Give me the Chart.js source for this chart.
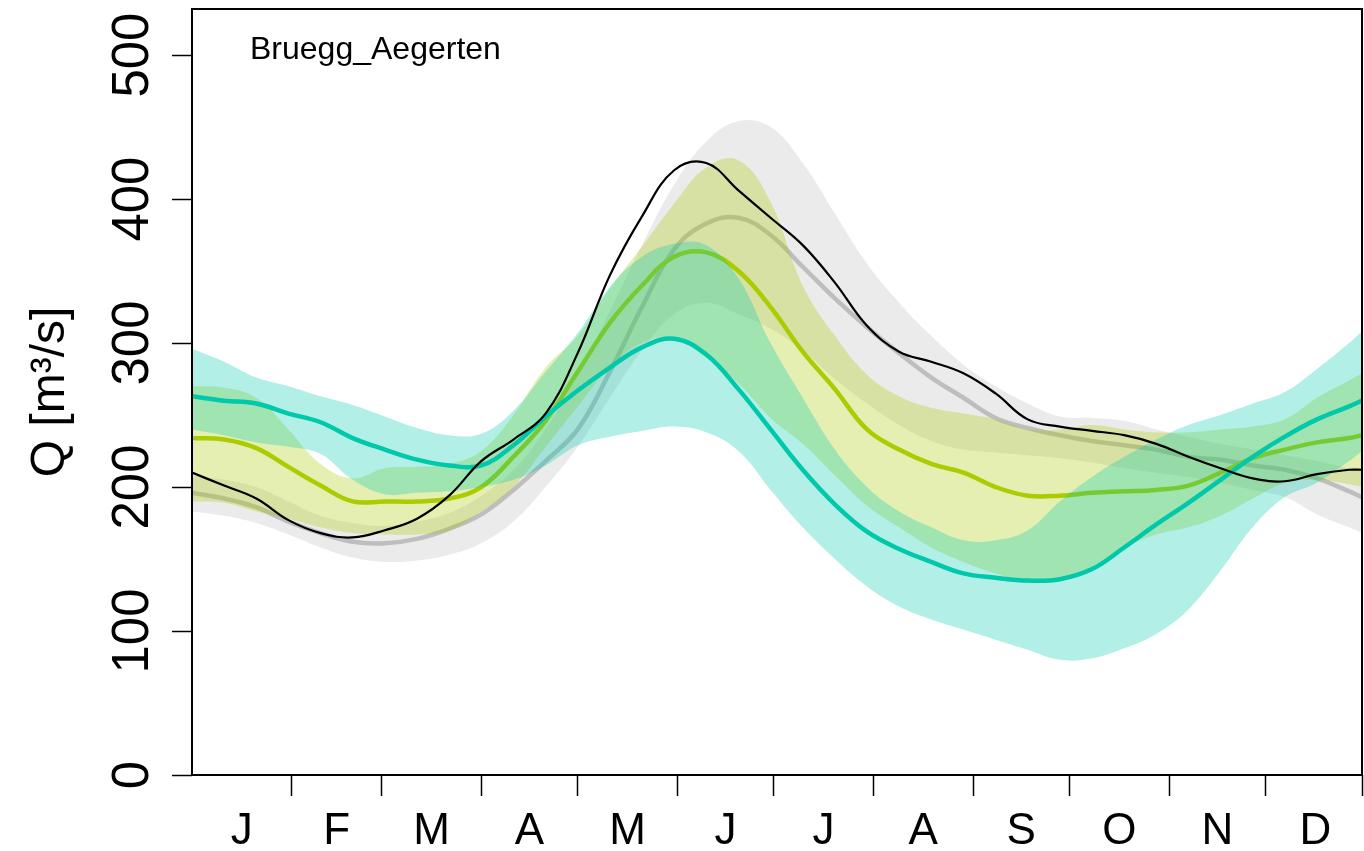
<!DOCTYPE html>
<html>
<head>
<meta charset="utf-8">
<script src="https://cdn.jsdelivr.net/npm/chart.js@4/dist/chart.umd.min.js"></script>
<style>
  html, body { margin: 0; padding: 0; background: #fff; }
  #wrap { width: 1364px; height: 851px; }
</style>
</head>
<body>
<div id="wrap"><canvas id="flowChart" width="1364" height="851"></canvas></div>
<script>
// day of year for every sample
const days = [1, 11, 21, 31, 41, 51, 61, 71, 81, 91, 101, 111, 121, 131, 141, 151, 161, 171, 181,
  191, 201, 211, 221, 231, 241, 251, 261, 271, 281, 291, 301, 311, 321, 331, 341, 351, 361, 365];

// observed discharge
const obsQ = [210, 201, 192, 177, 168, 165, 170, 178, 194, 218, 233, 251, 293, 347, 388, 420, 425, 406, 387,
  368, 342, 312, 294, 287, 279, 265, 247, 242, 239, 236, 230, 221, 213, 206, 204, 209, 212, 212];

// reference period: mean and range
const refMean = [196, 192, 186, 176, 168, 162, 161, 164, 171, 181, 198, 218, 240, 280, 325, 365, 383, 387, 375,
  353, 331, 311, 293, 276, 262, 248, 241, 236, 232, 229, 226, 221, 219, 215, 212, 206, 197, 193];
const refHigh = [208, 205, 200, 190, 180, 175, 173, 176, 182, 194, 212, 240, 278, 322, 368, 410, 440, 454, 450,
  425, 390, 355, 328, 305, 285, 270, 258, 249, 248, 246, 240, 235, 230, 226, 222, 218, 213, 211];
const refLow = [183, 180, 175, 167, 158, 151, 148, 149, 153, 161, 176, 200, 228, 262, 295, 320, 328, 320, 310,
  295, 275, 258, 243, 232, 226, 224, 222, 220, 217, 213, 210, 207, 203, 198, 193, 181, 172, 168];

// scenario A (yellow-green)
const scenAMean = [234, 233, 227, 214, 201, 190, 190, 190, 192, 200, 221, 246, 280, 314, 340, 360, 363, 350, 325,
  294, 268, 240, 226, 216, 210, 200, 194, 194, 196, 197, 198, 201, 210, 220, 226, 231, 234, 236];
const scenAHigh = [270, 269, 262, 240, 216, 206, 213, 214, 216, 225, 250, 283, 305, 338, 367, 397, 422, 427, 398,
  340, 305, 278, 263, 255, 251, 247, 240, 240, 243, 240, 238, 238, 240, 242, 247, 262, 274, 279];
const scenALow = [190, 189, 183, 178, 172, 168, 167, 167, 170, 183, 200, 228, 256, 283, 300, 303, 290, 272, 248,
  230, 208, 187, 172, 158, 148, 140, 134, 136, 145, 158, 167, 172, 180, 192, 203, 205, 202, 200];

// scenario B (turquoise)
const scenBMean = [263, 260, 258, 251, 245, 234, 226, 219, 215, 215, 229, 249, 267, 283, 297, 303, 292, 268, 240,
  212, 188, 169, 157, 148, 140, 137, 135, 136, 143, 158, 174, 189, 205, 221, 235, 247, 256, 260];
const scenBHigh = [296, 287, 276, 270, 263, 257, 249, 241, 236, 237, 253, 280, 307, 339, 360, 369, 368, 345, 300,
  262, 226, 200, 183, 172, 163, 163, 170, 190, 207, 221, 233, 243, 250, 258, 266, 282, 300, 308];
const scenBLow = [240, 236, 231, 228, 223, 205, 195, 196, 197, 200, 205, 215, 229, 235, 239, 242, 238, 225, 198,
  172, 150, 131, 117, 108, 101, 94, 87, 80, 81, 88, 98, 115, 142, 172, 193, 203, 218, 225];

const monthLabels = ['J', 'F', 'M', 'A', 'M', 'J', 'J', 'A', 'S', 'O', 'N', 'D'];
const monthStarts = [1, 32, 60, 91, 121, 152, 182, 213, 244, 274, 305, 335, 366];
const yTicks = [0, 100, 200, 300, 400, 500];
const stationName = 'Bruegg_Aegerten';

const FONT = "'Liberation Sans', Arial, sans-serif";
Chart.defaults.font.family = FONT;
Chart.defaults.color = '#000';

const toXY = arr => arr.map((v, i) => ({ x: days[i], y: v }));
const boundaryTicks = monthStarts.slice(1).map(d => Math.min(d, 365));
const midTicks = monthStarts.slice(0, -1).map((d, i) => (d + monthStarts[i + 1]) / 2);

function line(data, color, width, order) {
  return { data: toXY(data), borderColor: color, borderWidth: width, fill: false,
    pointRadius: 0, tension: 0.4, order: order };
}
function band(high, low, color, order) {
  return [
    { data: toXY(high), borderWidth: 0, borderColor: 'transparent', backgroundColor: color,
      fill: '+1', pointRadius: 0, tension: 0.4, order: order },
    { data: toXY(low), borderWidth: 0, borderColor: 'transparent', fill: false,
      pointRadius: 0, tension: 0.4, order: order }
  ];
}

// box around the plot and the station name
const framePlugin = {
  id: 'frame',
  afterDraw(chart) {
    const { ctx, chartArea: a } = chart;
    ctx.save();
    ctx.strokeStyle = '#000';
    ctx.lineWidth = 2;
    ctx.strokeRect(a.left, a.top, a.right - a.left, a.bottom - a.top);
    ctx.font = '32px ' + FONT;
    ctx.fillStyle = '#000';
    ctx.textBaseline = 'alphabetic';
    ctx.fillText(stationName, a.left + 58, a.top + 50);
    ctx.restore();
  }
};

new Chart(document.getElementById('flowChart'), {
  type: 'line',
  data: {
    datasets: [
      line(obsQ, '#000000', 2.2, 0),
      line(scenBMean, 'rgb(0,200,170)', 4.5, 1),
      ...band(scenBHigh, scenBLow, 'rgba(0,201,172,0.3)', 2),
      line(scenAMean, 'rgb(170,204,0)', 4.5, 3),
      ...band(scenAHigh, scenALow, 'rgba(168,202,0,0.3)', 4),
      line(refMean, 'rgb(190,190,190)', 4.5, 5),
      ...band(refHigh, refLow, 'rgba(190,190,190,0.3)', 6)
    ]
  },
  options: {
    responsive: false,
    animation: false,
    events: [],
    layout: { padding: { left: 0, top: 9, right: 2, bottom: 0 } },
    plugins: { legend: { display: false }, tooltip: { enabled: false } },
    scales: {
      x: {
        type: 'linear',
        min: 1,
        max: 365,
        afterBuildTicks: s => {
          s.ticks = boundaryTicks.concat(midTicks).sort((a, b) => a - b).map(v => ({ value: v }));
        },
        afterFit: s => { s.height = 76; s.paddingLeft = 0; s.paddingRight = 0; },
        border: { display: false },
        grid: {
          drawOnChartArea: false,
          tickLength: 21,
          tickWidth: 1.5,
          tickColor: c => (c.tick && boundaryTicks.includes(c.tick.value)) ? '#000' : 'rgba(0,0,0,0)'
        },
        ticks: {
          autoSkip: false,
          maxRotation: 0,
          padding: 9,
          font: { size: 44 },
          callback: v => {
            const i = midTicks.indexOf(v);
            return i >= 0 ? monthLabels[i] : '';
          }
        }
      },
      y: {
        min: 0,
        max: 532,
        afterBuildTicks: s => { s.ticks = yTicks.map(v => ({ value: v })); },
        afterFit: s => { s.width = 192; s.paddingTop = 0; s.paddingBottom = 0; },
        border: { display: false },
        grid: { drawOnChartArea: false, tickLength: 20, tickWidth: 1.5, tickColor: '#000' },
        ticks: {
          minRotation: 90,
          maxRotation: 90,
          crossAlign: 'center',
          padding: -4,
          font: { size: 51 }
        },
        title: {
          display: true,
          text: 'Q [m³/s]',
          font: { size: 48 },
          padding: { top: 22, bottom: 0 }
        }
      }
    }
  },
  plugins: [framePlugin]
});
</script>
</body>
</html>
